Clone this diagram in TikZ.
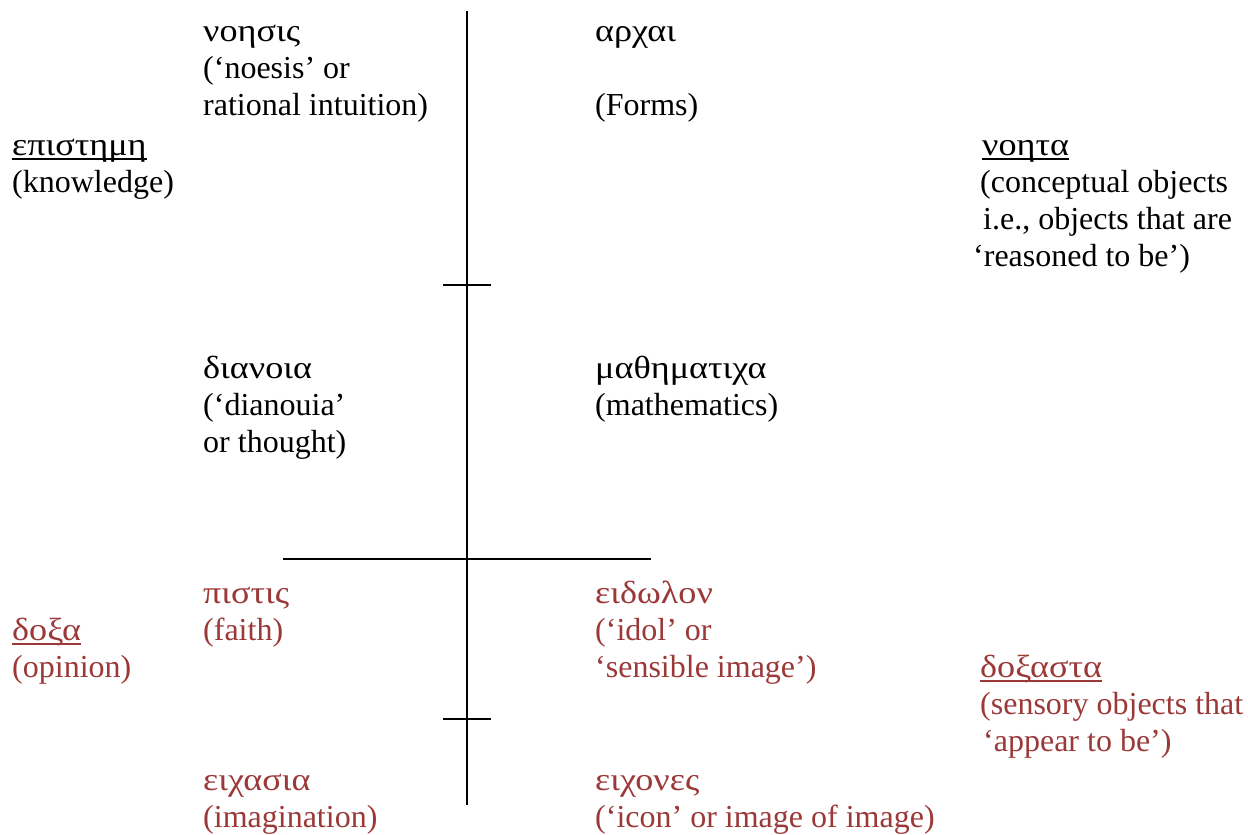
\documentclass[tikz,border=0pt]{standalone}
\usepackage{fontspec}
\setmainfont{Liberation Serif}
\newfontfamily\grk[FakeStretch=1.13]{Liberation Serif}
\newcommand{\myuline}[1]{\setbox0\hbox{#1}\rlap{\vrule height -3pt depth 5pt width \wd0}\box0}
\definecolor{opred}{RGB}{155,56,56}
\begin{document}
\begin{tikzpicture}[x=1pt,y=-1pt,
  txt/.style={anchor=north west,inner sep=0pt,align=left,font=\fontsize{32}{37}\selectfont},
  lowtxt/.style={txt,text=opred},
  divline/.style={line width=1.8pt,draw=black}]
\useasboundingbox (0,0) rectangle (1248,835);
% upper (black) texts
\node[txt] (noesis) at (203,15.1) {\strut{\grk νοησις}\\(‘noesis’ or\\rational intuition)};
\node[txt] (archai) at (595,15.1) {\strut{\grk αρχαι}\\[37pt](Forms)};
\node[txt] (episteme) at (12,129.1) {\strut\myuline{\grk επιστημη}\\(knowledge)};
\node[txt] (noeta) at (973,129.1) {\strut\hspace{9pt}\myuline{\grk νοητα}\\\hspace{7pt}(conceptual objects\\\hspace{10pt}i.e., objects that are\\‘reasoned to be’)};
\node[txt] (dianoia) at (203,352.1) {\strut{\grk διανοια}\\(‘dianouia’\\or thought)};
\node[txt] (math) at (595,352.1) {\strut{\grk μαθηματιχα}\\(mathematics)};
% lower (red) texts
\node[lowtxt] (pistis) at (203,577.1) {\strut{\grk πιστις}\\(faith)};
\node[lowtxt] (doxa) at (12,614.1) {\strut\myuline{\grk δοξα}\\(opinion)};
\node[lowtxt] (eidolon) at (595,577.1) {\strut{\grk ειδωλον}\\(‘idol’ or\\‘sensible image’)};
\node[lowtxt] (doxasta) at (980,651.1) {\strut\myuline{\grk δοξαστα}\\(sensory objects that\\\hspace{3pt}‘appear to be’)};
\node[lowtxt] (eikasia) at (203,764.1) {\strut{\grk ειχασια}\\(imagination)};
\node[lowtxt] (eikones) at (595,764.1) {\strut{\grk ειχονες}\\(‘icon’ or image of image)};
% divided line
\coordinate (vtop) at (467,11);
\coordinate (vbot) at (467,805);
\coordinate (t1l) at (443,285);
\coordinate (t1r) at (491,285);
\coordinate (hl) at (283,559);
\coordinate (hr) at (651,559);
\coordinate (t2l) at (443,719);
\coordinate (t2r) at (491,719);
\draw[divline] (vtop) -- (vbot);
\draw[divline] (t1l) -- (t1r);
\draw[divline] (hl) -- (hr);
\draw[divline] (t2l) -- (t2r);
\end{tikzpicture}
\end{document}
